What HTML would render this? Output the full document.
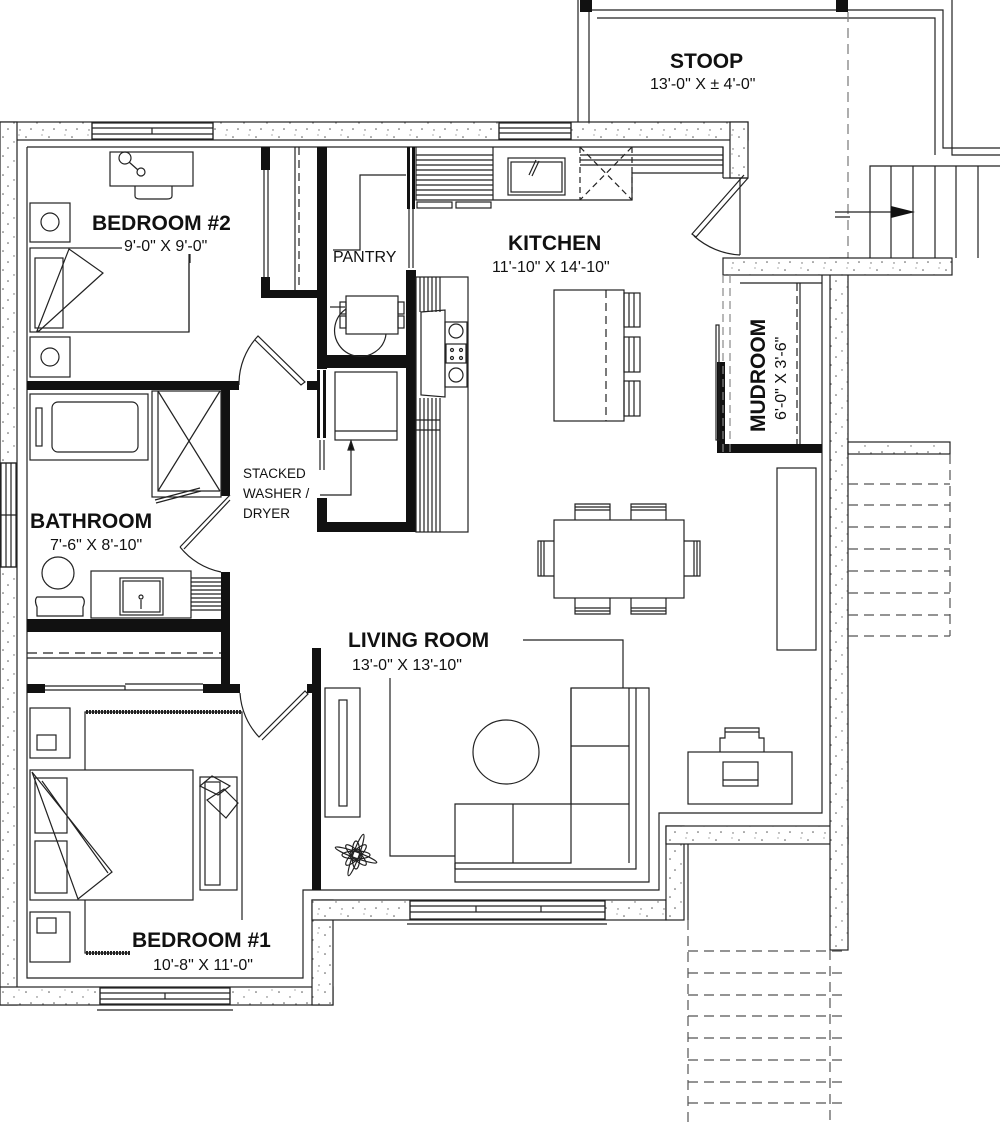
<!DOCTYPE html>
<html><head><meta charset="utf-8"><style>
html,body{margin:0;padding:0;background:#fff;}
svg{display:block;}
text{font-family:"Liberation Sans",Arial,sans-serif;fill:#111;}
.b{font-weight:bold;font-size:21px;}
.d{font-size:16px;}
</style></head><body>
<svg width="1000" height="1125" viewBox="0 0 1000 1125" xmlns="http://www.w3.org/2000/svg">
<defs>
<pattern id="sp" width="23" height="19" patternUnits="userSpaceOnUse">
<rect width="23" height="19" fill="#fff"/>
<circle cx="3" cy="4" r="0.8" fill="#555"/><circle cx="14" cy="9" r="0.7" fill="#666"/>
<circle cx="8" cy="15" r="0.8" fill="#555"/><circle cx="19" cy="2" r="0.6" fill="#777"/>
<circle cx="20" cy="16" r="0.7" fill="#666"/>
</pattern>
</defs>
<g fill="none" stroke="#222" stroke-width="1.2">
<!-- STOOP -->
<path d="M578 0 V122 M589 10 V122 M589 10 H943 V148 H1000 M597 18 H935 V155" />
<path d="M952 0 V155 H1000"/>
<rect x="580" y="0" width="12" height="12" fill="#111" stroke="none"/>
<rect x="836" y="0" width="12" height="12" fill="#111" stroke="none"/>
<path d="M848 12 V258" stroke-dasharray="10,6" stroke="#777"/>
<path d="M870 258 V166 H1000 M891 166 V258 M913 166 V258 M935 166 V258 M956 166 V258 M978 166 V258"/>
<path d="M835 212 H900 M835 217 H850" />
<polygon points="891,206 915,212 891,218" fill="#111" stroke="none"/>
<!-- exterior walls -->
<g fill="url(#sp)">
<rect x="0" y="122" width="748" height="18"/>
<rect x="730" y="122" width="18" height="56"/>
<rect x="0" y="122" width="17" height="883"/>
<rect x="0" y="987" width="333" height="18"/>
<rect x="312" y="900" width="21" height="105"/>
<rect x="312" y="900" width="354" height="20"/>
<rect x="666" y="826" width="18" height="94"/>
<rect x="666" y="826" width="182" height="18"/>
<rect x="830" y="258" width="18" height="692"/>
<rect x="723" y="258" width="229" height="17"/>
<rect x="848" y="442" width="102" height="12"/>
</g>
<!-- windows -->
<g fill="#fff">
<rect x="92" y="123" width="121" height="16"/>
<rect x="499" y="123" width="72" height="16"/>
<rect x="1" y="463" width="15" height="104"/>
<rect x="100" y="988" width="130" height="16"/>
<rect x="410" y="901" width="195" height="18"/>
</g>
<path d="M92 122 V140 M213 122 V140 M92 128 H213 M92 134 H213 M152 128 V134"/>
<path d="M499 122 V140 M571 122 V140 M499 128 H571 M499 133 H571"/>
<path d="M0 463 H17 M0 567 H17 M6 463 V567 M11 463 V567 M0 515 H17"/>
<path d="M100 987 V1005 M230 987 V1005 M100 993 H230 M100 999 H230 M97 1010 H233 M165 993 V999"/>
<path d="M410 900 V920 M605 900 V920 M410 906 H605 M410 912 H605 M407 924 H607 M476 906 V912 M541 906 V912"/>
<!-- room finish lines -->
<path d="M27 147 V978 H303 V890 H659 V813 H822 V275"/>
<path d="M27 147 H723 V178"/>
<path d="M740 178 V255 M723 178 H748"/>
<!-- stairs -->
<g stroke-dasharray="10,6" stroke="#555">
<path d="M848 484 H950 M848 505 H950 M848 527 H950 M848 549 H950 M848 571 H950 M848 593 H950 M848 615 H950 M848 636 H950 M950 454 V636"/>
<path d="M688 920 V1125 M830 950 V1125 M688 951 H848 M688 973 H848 M688 995 H848 M688 1016 H848 M688 1038 H848 M688 1060 H848 M688 1082 H848 M688 1103 H848"/>
</g>
<path d="M688 844 V920"/>
<!-- black interior walls -->
<g fill="#111" stroke="none">
<rect x="27" y="381" width="212" height="9"/>
<rect x="307" y="381" width="12" height="9"/>
<rect x="221" y="381" width="9" height="115"/>
<rect x="221" y="572" width="9" height="120"/>
<rect x="27" y="619" width="203" height="13"/>
<rect x="27" y="684" width="18" height="9"/>
<rect x="203" y="684" width="37" height="9"/>
<rect x="261" y="147" width="9" height="23"/>
<rect x="261" y="277" width="9" height="21"/>
<rect x="261" y="290" width="60" height="8"/>
<rect x="317" y="147" width="10" height="222"/>
<rect x="317" y="355" width="98" height="13"/>
<rect x="406" y="270" width="10" height="262"/>
<rect x="317" y="522" width="98" height="10"/>
<rect x="317" y="498" width="10" height="30"/>
<rect x="317" y="370" width="3" height="68"/>
<rect x="323" y="370" width="3" height="68"/>
<rect x="407" y="147" width="3" height="62"/>
<rect x="412" y="147" width="3" height="62"/>
<rect x="312" y="648" width="9" height="242"/>
<rect x="717" y="362" width="8" height="91"/>
<rect x="717" y="444" width="105" height="9"/>
<rect x="307" y="684" width="8" height="9"/>
</g>
<!-- doors -->
<path d="M239 385 A70 70 0 0 1 258 336 L305 382 L301 385 L255 340"/>
<path d="M230 495 L180 547 M184 549 L230 500 M180 547 A70 70 0 0 0 221 572"/>
<path d="M240 693 A70 70 0 0 0 259 737 L305 691 L308 694 L262 740"/>
<path d="M748 178 L696 237 L692 234 L744 175 M694 236 A75 75 0 0 0 740 255"/>
<path d="M320 440 V470 M324 440 V470 M409 209 V268 M413 209 V268"/>
<!-- bedroom2 closet -->
<path d="M264 170 V277 M268 170 V277 M295 147 V290" />
<path d="M299 147 V290" stroke-dasharray="8,5"/>
<!-- bedroom 2 furniture -->
<rect x="110" y="152" width="83" height="34"/>
<circle cx="125" cy="158" r="6"/><circle cx="141" cy="172" r="4"/><path d="M129 162 L138 170"/>
<path d="M135 186 V196 Q135 199 140 199 H167 Q172 199 172 196 V186"/>
<rect x="30" y="203" width="40" height="39"/><circle cx="50" cy="222" r="9"/>
<rect x="30" y="337" width="40" height="40"/><circle cx="50" cy="357" r="9"/>
<rect x="30" y="248" width="159" height="84"/>
<rect x="35" y="258" width="28" height="70"/>
<path d="M37 331 L69 249 L103 273 L39 331 Z"/>
<path d="M189 263 V332" />
<path d="M123 248 H190 V263"/>
<!-- pantry -->
<path d="M333 250 H360 V175 H406"/>
<path d="M330 307 H345"/>
<rect x="346" y="296" width="52" height="38"/>
<rect x="340" y="302" width="6" height="12"/><rect x="340" y="316" width="6" height="12"/>
<rect x="398" y="302" width="6" height="12"/><rect x="398" y="316" width="6" height="12"/>
<path d="M346 309 A24 24 0 0 0 375 352 A24 24 0 0 0 386 334"/>
<!-- washer -->
<rect x="335" y="372" width="62" height="68"/>
<path d="M335 431 H397 M351 440 V495 H320"/>
<polygon points="348,450 351,441 354,450" fill="#111"/>
<!-- left kitchen counter -->
<rect x="416" y="277" width="52" height="255"/>
<path d="M420 277 V312 M424 277 V312 M428 277 V312 M432 277 V312 M436 277 V312 M440 277 V312"/>
<path d="M420 398 V532 M424 398 V532 M428 398 V532 M432 398 V532 M436 398 V532 M440 398 V532 M416 420 H440 M416 430 H440"/>
<path d="M421 312 L445 310 L445 397 L421 395 Z M421 312 V395"/>
<rect x="445" y="322" width="22" height="65"/>
<circle cx="456" cy="331" r="7"/><circle cx="456" cy="375" r="7"/>
<rect x="446" y="344" width="20" height="19"/>
<circle cx="452" cy="350" r="1.5"/><circle cx="461" cy="350" r="1.5"/><circle cx="452" cy="358" r="1.5"/><circle cx="461" cy="358" r="1.5"/>
<!-- top kitchen counter -->
<path d="M416 147 V200 H632 V173 H723 V147"/>
<path d="M416 155 H493 M416 160 H493 M416 165 H493 M416 170 H493 M416 175 H493 M416 180 H493 M416 185 H493 M416 190 H493 M416 195 H493 M493 147 V200"/>
<path d="M580 155 H723 M580 160 H723 M580 165 H723"/>
<rect x="417" y="202" width="35" height="6"/><rect x="456" y="202" width="35" height="6"/>
<rect x="508" y="158" width="57" height="37"/><rect x="511" y="162" width="51" height="30"/>
<path d="M529 175 L536 160 M532 176 L539 161"/>
<path d="M580 147 V200 M632 147 V200 M580 147 L632 200 M632 147 L580 200" stroke-dasharray="6,4"/>
<!-- island -->
<rect x="554" y="290" width="70" height="131"/>
<path d="M606 290 V421" stroke-dasharray="8,5"/>
<rect x="624" y="293" width="16" height="34"/><path d="M629 293 V327 M634 293 V327"/>
<rect x="624" y="337" width="16" height="35"/><path d="M629 337 V372 M634 337 V372"/>
<rect x="624" y="381" width="16" height="35"/><path d="M629 381 V416 M634 381 V416"/>
<!-- mudroom -->
<path d="M723 275 V453 M730 275 V453" stroke-dasharray="8,5" stroke="#888"/>
<rect x="716" y="325" width="3" height="115"/>
<path d="M797 283 V444" stroke-dasharray="8,5"/>
<path d="M800 283 V444 M740 283 H822"/>
<!-- dining -->
<rect x="554" y="520" width="130" height="78"/>
<path d="M575 520 V504 H610 V520 M575 507 H610 M575 510 H610"/>
<path d="M631 520 V504 H666 V520 M631 507 H666 M631 510 H666"/>
<path d="M575 598 V614 H610 V598 M575 611 H610 M575 608 H610"/>
<path d="M631 598 V614 H666 V598 M631 611 H666 M631 608 H666"/>
<path d="M554 541 H538 V576 H554 M541 541 V576 M544 541 V576"/>
<path d="M684 541 H700 V576 H684 M697 541 V576 M694 541 V576"/>
<rect x="777" y="468" width="39" height="182"/>
<!-- living -->
<path d="M523 640 H623 V688"/>
<path d="M390 678 V856 H455"/>
<ellipse cx="506" cy="752" rx="33" ry="32"/>
<path d="M571 688 H649 V882 H455 V804 H571 Z"/>
<path d="M571 688 V863 H455 M629 688 V863 M636 688 V869 H455 M455 869 V863"/>
<path d="M571 746 H629 M571 804 H629 M513 804 V863"/>
<rect x="688" y="752" width="104" height="52"/>
<rect x="723" y="762" width="35" height="24"/><path d="M723 780 H758"/>
<path d="M720 752 V738 H725 V728 H759 V738 H764 V752 M725 732 H759"/>
<rect x="325" y="688" width="35" height="129"/>
<rect x="339" y="700" width="8" height="106"/>
<g transform="translate(356,855)">
<ellipse rx="4" ry="14"/><ellipse rx="4" ry="14" transform="rotate(45)"/>
<ellipse rx="4" ry="14" transform="rotate(90)"/><ellipse rx="4" ry="14" transform="rotate(135)"/>
<ellipse rx="3" ry="22" transform="rotate(20)"/><ellipse rx="3" ry="22" transform="rotate(110)"/>
<circle r="6"/>
</g>
<!-- bathroom -->
<rect x="30" y="394" width="118" height="66"/>
<rect x="52" y="402" width="86" height="50" rx="6"/>
<rect x="36" y="408" width="6" height="38"/>
<rect x="152" y="391" width="69" height="106"/>
<path d="M158 391 L220 491 M220 391 L158 491 M158 391 V491 H220"/>
<path d="M155 500 L200 488 M156 503 L201 491"/>
<circle cx="58" cy="573" r="16"/>
<path d="M37 597 H82 Q86 600 83 607 V616 H37 V607 Q34 600 37 597 Z"/>
<rect x="91" y="571" width="100" height="47"/>
<rect x="120" y="578" width="43" height="37"/><rect x="123" y="581" width="37" height="31"/>
<circle cx="141" cy="597" r="2"/><path d="M141 600 V609"/>
<path d="M191 578 H221 M191 582 H221 M191 586 H221 M191 590 H221 M191 594 H221 M191 598 H221 M191 602 H221 M191 606 H221 M191 610 H221"/>
<!-- bedroom1 closet -->
<path d="M27 653 H221" stroke-dasharray="10,6"/>
<path d="M27 658 H221 M45 686 H125 V690 H203 M45 690 H125 M125 684 H203"/>
<!-- bedroom1 furniture -->
<rect x="30" y="708" width="40" height="50"/><rect x="37" y="735" width="19" height="15"/>
<rect x="30" y="912" width="40" height="50"/><rect x="37" y="918" width="19" height="15"/>
<path d="M85 770 V712 H242 V920 M85 900 V953 H139"/>
<path d="M86 712 H242" stroke-dasharray="2,1" stroke-width="4"/>
<path d="M86 953 H139" stroke-dasharray="2,1" stroke-width="4"/>
<rect x="30" y="770" width="163" height="130"/>
<rect x="35" y="778" width="32" height="55"/><rect x="35" y="841" width="32" height="52"/>
<path d="M32 772 L78 899 L112 872 Z M42 781 L108 873"/>
<rect x="200" y="777" width="37" height="113"/><rect x="205" y="782" width="15" height="103"/>
<path d="M200 786 L212 776 L230 786 L218 795 Z M207 800 L224 789 L238 803 L226 818 Z"/>
</g>
<!-- labels -->
<text x="670" y="68" class="b">STOOP</text>
<text x="650" y="89" class="d">13'-0" X ± 4'-0"</text>
<text x="92" y="230" class="b">BEDROOM #2</text>
<rect x="122" y="238" width="106" height="16" fill="#fff"/>
<text x="124" y="251" class="d">9'-0" X 9'-0"</text>
<text x="333" y="262" style="font-size:16px">PANTRY</text>
<text x="508" y="250" class="b">KITCHEN</text>
<text x="492" y="272" class="d">11'-10" X 14'-10"</text>
<text transform="translate(765,432) rotate(-90)" class="b">MUDROOM</text>
<text transform="translate(786,420) rotate(-90)" class="d">6'-0" X 3'-6"</text>
<text x="243" y="478" style="font-size:13.5px">STACKED</text>
<text x="243" y="498" style="font-size:13.5px">WASHER /</text>
<text x="243" y="518" style="font-size:13.5px">DRYER</text>
<text x="30" y="528" class="b">BATHROOM</text>
<text x="50" y="550" class="d">7'-6" X 8'-10"</text>
<text x="348" y="647" class="b">LIVING ROOM</text>
<text x="352" y="670" class="d">13'-0" X 13'-10"</text>
<rect x="130" y="928" width="172" height="48" fill="#fff"/>
<text x="132" y="947" class="b">BEDROOM #1</text>
<text x="153" y="970" class="d">10'-8" X 11'-0"</text>
</svg>
</body></html>
